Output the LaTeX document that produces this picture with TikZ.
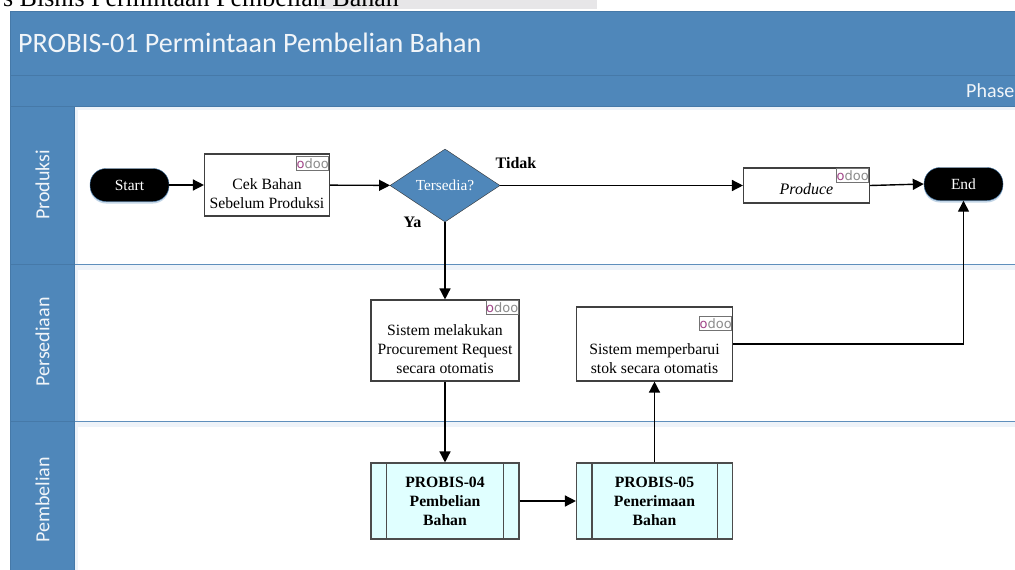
\documentclass[tikz,border=0pt]{standalone}
\usepackage{fontspec}
\setmainfont{Liberation Serif}
\newfontfamily\bandfont{Carlito}
\newfontfamily\logofont{DejaVu Sans}
\usetikzlibrary{arrows.meta,positioning,shapes.geometric,shadows}
\definecolor{bandblue}{HTML}{4F87BA}
\definecolor{bandline}{HTML}{4679A8}
\definecolor{laneline}{HTML}{5F8FBC}
\definecolor{subcyan}{HTML}{E0FFFF}
\definecolor{odoopink}{HTML}{A24689}
\definecolor{odoogrey}{HTML}{8C8C8C}
\definecolor{glowblue}{HTML}{EEF3F9}
\definecolor{stripgrey}{HTML}{E7E6E8}
\tikzset{
    band/.style={fill=bandblue, draw=bandline, line width=0.8pt},
    bandtext/.style={font=\bandfont\fontsize{20}{23}\selectfont, text=white!92!bandblue, inner sep=0pt},
    lanetext/.style={bandtext, rotate=90},
    pill/.style={draw=bandline, fill=black, text=white, rounded corners=16pt, minimum width=79pt, minimum height=33pt, inner sep=0pt, font=\fontsize{15.5}{19}\selectfont, drop shadow={shadow xshift=0pt, shadow yshift=-2pt, fill=bandblue, opacity=0.35}},
    taskbox/.style={draw=black!75, fill=white, line width=1.1pt, inner sep=0pt},
    tasktext/.style={align=center, inner sep=0pt, font=\fontsize{15.7}{19}\selectfont},
    subbox/.style={draw=black!70, fill=subcyan, line width=1.1pt, align=center, inner sep=0pt, font=\bfseries\fontsize{15.7}{19}\selectfont},
    odoobadge/.style={draw=black!55, fill=white, line width=0.7pt, minimum width=31pt, minimum height=14pt, inner sep=0pt, font=\logofont\fontsize{13}{13}\selectfont},
    flow/.style={-{Triangle[length=11pt,width=11pt]}, line width=1.4pt, black},
    answer/.style={inner sep=0pt, font=\bfseries\fontsize{16}{18}\selectfont}
}
\newcommand{\odoologo}{{\color{odoopink}o}{\color{odoogrey}doo}}
\begin{document}
\begin{tikzpicture}[x=1pt, y=-1pt]
    \useasboundingbox (0,0) rectangle (1015,570);
    % page text cut off above the figure
    \fill[stripgrey] (318,0) rectangle (597,9);
    \node[anchor=base east, inner sep=0pt, font=\fontsize{26}{28}\selectfont] (pagetitle) at (399,6) {s Bisnis Permintaan Pembelian Bahan};
    % soft lines below the bands
    \fill[glowblue] (75,106) rectangle (1015,110);
    \fill[glowblue] (75,264) rectangle (1015,270);
    \fill[glowblue] (75,421) rectangle (1015,427);
    \fill[glowblue] (75,106) rectangle (78,570);
    % bands
    \draw[band] (10.5,11.5) rectangle (1016,75);
    \draw[band] (10.5,75) rectangle (1016,106);
    \draw[band] (10.5,106) rectangle (74.5,264);
    \draw[band] (10.5,264) rectangle (74.5,421);
    \draw[band] (10.5,421) rectangle (74.5,571);
    \draw[laneline, line width=1pt] (75,264) -- (1015,264);
    \draw[laneline, line width=1pt] (75,421) -- (1015,421);
    \node[bandtext, anchor=west, font=\bandfont\fontsize{28.1}{31}\selectfont] (title) at (18,43) {PROBIS-01 Permintaan Pembelian Bahan};
    \node[bandtext, anchor=west] (phase) at (966,91) {Phase};
    \node[lanetext] (produksi) at (42.5,185) {Produksi};
    \node[lanetext] (persediaan) at (42.5,342) {Persediaan};
    \node[lanetext] (pembelian) at (42.5,500) {Pembelian};
    % first lane
    \node[pill] (start) at (129.5,185) {Start};
    \node[taskbox, minimum width=125pt, minimum height=62pt] (cek) at (267,185) {};
    \node[tasktext] (cektext) at ([yshift=-9pt]cek.center) {Cek Bahan\\Sebelum Produksi};
    \node[odoobadge, below left=3pt and 1pt of cek.north east] (odoo1) {\odoologo};
    \node[diamond, aspect=1.5, draw=black!80, fill=bandblue, text=white, minimum width=110pt, minimum height=73pt, inner sep=0pt, font=\fontsize{15.3}{19}\selectfont] (tersedia) at (445,185.5) {Tersedia?};
    \node[answer] (tidak) at (516,163) {Tidak};
    \node[answer] (ya) at (412.5,222) {Ya};
    \node[taskbox, minimum width=126pt, minimum height=35pt] (produce) at (806.5,185.5) {};
    \node[tasktext, font=\itshape\fontsize{16}{19}\selectfont] (producetext) at ([yshift=-3.5pt]produce.center) {Produce};
    \node[odoobadge, below left=1pt and 1pt of produce.north east] (odoo2) {\odoologo};
    \node[pill] (end) at (963.5,184) {End};
    % second lane
    \node[taskbox, minimum width=148pt, minimum height=81pt] (request) at (445,340.5) {};
    \node[tasktext] (requesttext) at ([yshift=-8.5pt]request.center) {Sistem melakukan\\Procurement Request\\secara otomatis};
    \node[odoobadge, below left=1pt and 1pt of request.north east] (odoo3) {\odoologo};
    \node[taskbox, minimum width=156pt, minimum height=74pt] (stok) at (654.5,344) {};
    \node[tasktext] (stoktext) at ([yshift=-14.5pt]stok.center) {Sistem memperbarui\\stok secara otomatis};
    \node[odoobadge, below left=10pt and 1pt of stok.north east] (odoo4) {\odoologo};
    % third lane
    \node[subbox, minimum width=148pt, minimum height=76pt] (probis4) at (445,501) {PROBIS-04\\Pembelian\\Bahan};
    \node[subbox, minimum width=156pt, minimum height=76pt] (probis5) at (654.5,501) {PROBIS-05\\Penerimaan\\Bahan};
    \draw[black!70, line width=1.1pt] ([xshift=16pt]probis4.north west) -- ([xshift=16pt]probis4.south west);
    \draw[black!70, line width=1.1pt] ([xshift=-16pt]probis4.north east) -- ([xshift=-16pt]probis4.south east);
    \draw[black!70, line width=1.1pt] ([xshift=16pt]probis5.north west) -- ([xshift=16pt]probis5.south west);
    \draw[black!70, line width=1.1pt] ([xshift=-16pt]probis5.north east) -- ([xshift=-16pt]probis5.south east);
    % connectors
    \draw[flow] (start) -- (cek);
    \draw[flow] (cek) -- (tersedia);
    \draw[flow] (tersedia) -- (produce);
    \draw[flow] (produce.east) -- (end.west);
    \draw[flow] (tersedia.south) -- (request.north);
    \draw[flow] (request.south) -- (probis4.north);
    \draw[flow] (probis4) -- (probis5);
    \draw[flow] (probis5.north) -- (stok.south);
    \draw[flow] (stok.east) -| (end.south);
\end{tikzpicture}
\end{document}
